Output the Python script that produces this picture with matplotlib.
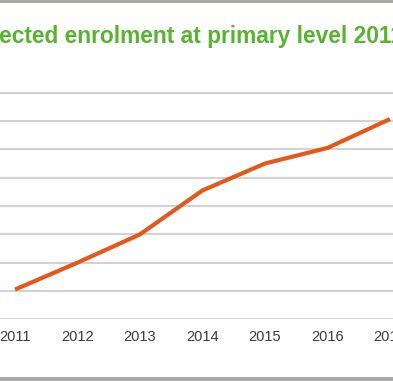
import matplotlib
matplotlib.use("Agg")
import matplotlib.pyplot as plt
from matplotlib.patches import Rectangle
from matplotlib import font_manager

years = [2011, 2012, 2013, 2014, 2015, 2016, 2017]
enrolment = [1.05, 2.0, 3.0, 4.55, 5.5, 6.05, 7.07]
tick_labels = ["2011", "2012", "2013", "2014", "2015", "2016", "2017"]
title = "Projected enrolment at primary level 2011-2020"

W, H = 393, 381
fig = plt.figure(figsize=(W / 100, H / 100), dpi=100)
fig.patch.set_facecolor("white")

y0 = (H - 319.3) / H
y8 = (H - 92.7) / H
unit = (y8 - y0) / 8
ax = fig.add_axes([0, y0, 1, y8 - y0 + unit * 0.3])
ax.set_xlim(2011 - 15 / 62.5, 2011 + 378 / 62.5)
ax.set_ylim(0, 8.3)

ax.set_yticks(range(0, 9))
ax.yaxis.grid(True, color="#d2d2d2", linewidth=1.5)
ax.set_axisbelow(True)
ax.tick_params(axis="y", left=False, labelleft=False)
ax.set_xticks(years)
ax.set_xticklabels(tick_labels, fontsize=10.5, color="#3a3a3a", family="Liberation Sans")
ax.tick_params(axis="x", length=0, pad=8)
for s in ax.spines.values():
    s.set_visible(False)
ax.patch.set_alpha(0)

ax.plot(years, enrolment, color="#e4581b", linewidth=3, solid_capstyle="butt", clip_on=False)

# title font: narrow face if present
fam = "Liberation Sans"
try:
    font_manager.findfont(font_manager.FontProperties(family="Liberation Sans Narrow"),
                          fallback_to_default=False)
    fam = "Liberation Sans Narrow"
except Exception:
    pass

renderer = fig.canvas.get_renderer()
base = 20.0
fprops = dict(color="#58b330", family=fam, fontweight="bold")

def width(s, size):
    t = fig.text(0, 0, s, fontsize=size, **fprops)
    w = t.get_window_extent(renderer).width
    t.remove()
    return w

# scale size so visible part "ected ... level" spans ~348 px
size = base * 348.0 / width("ected enrolment at primary level", base)
w_proj = width("Proj", size)
fig.text(-(w_proj + 0.5) / W, (H - 43) / H, title, fontsize=size,
         ha="left", va="baseline", **fprops)

fig.add_artist(Rectangle((0, 1 - 3 / H), 1, 3 / H, transform=fig.transFigure,
                         color="#a8a8ad", lw=0))
fig.add_artist(Rectangle((0, 0), 1, 4.5 / H, transform=fig.transFigure,
                         color="#a8a8ad", lw=0))

fig.savefig("out.png", dpi=100)
